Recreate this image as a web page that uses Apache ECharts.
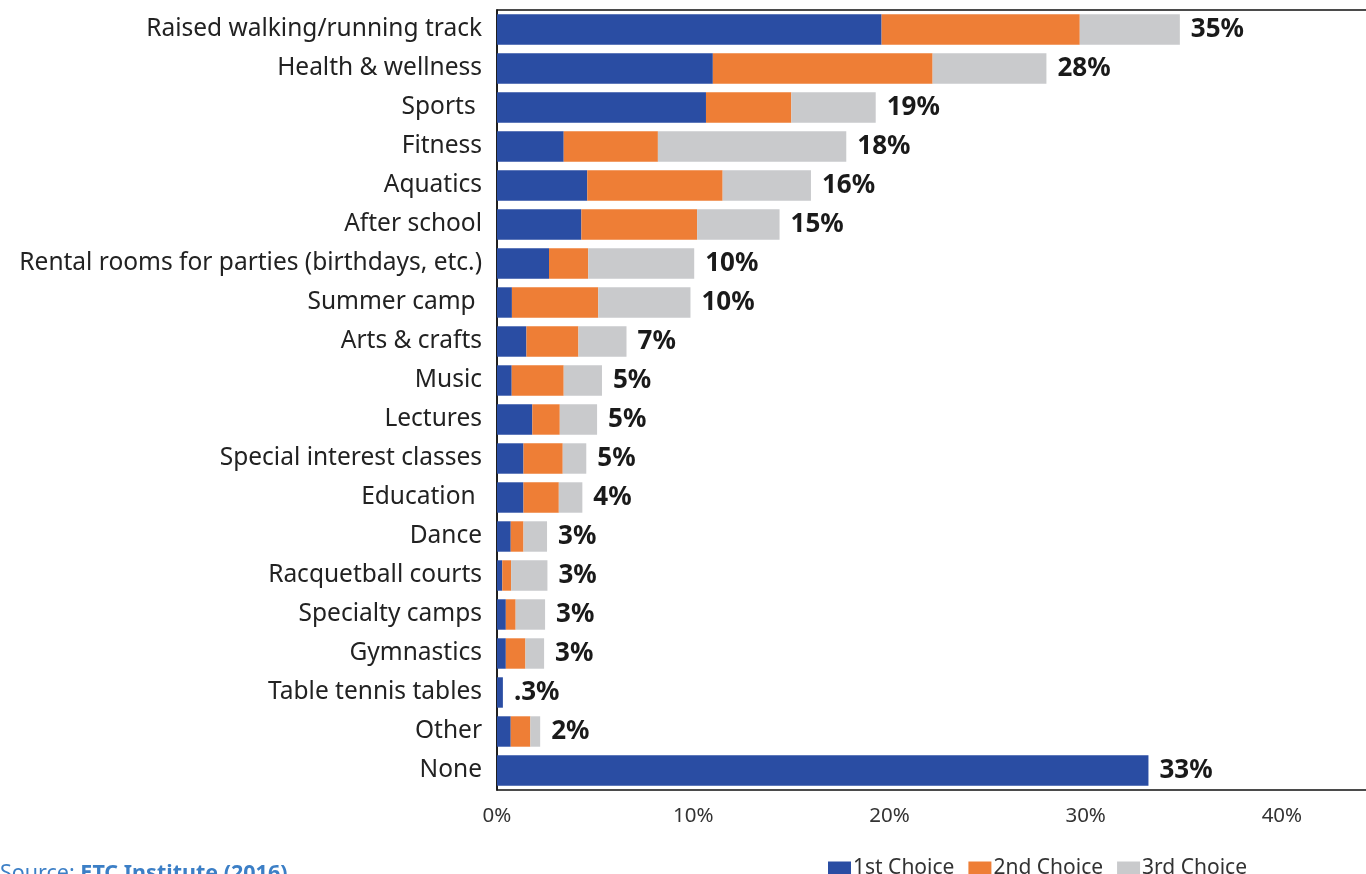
<!DOCTYPE html>
<html>
<head>
<meta charset="utf-8">
<script src="https://cdn.jsdelivr.net/npm/echarts@6/dist/echarts.min.js"></script>
<style>
html,body{margin:0;padding:0;background:#fff;}
#c{width:1366px;height:874px;}
</style>
</head>
<body>
<div id="c"></div>
<script>
var categories = ["Raised walking/running track","Health & wellness","Sports ","Fitness","Aquatics","After school","Rental rooms for parties (birthdays, etc.)","Summer camp ","Arts & crafts","Music","Lectures","Special interest classes","Education ","Dance","Racquetball courts","Specialty camps","Gymnastics","Table tennis tables","Other","None"];
var firstChoice  = [19.6, 11.0, 10.65, 3.4, 4.6, 4.3, 2.65, 0.76, 1.5, 0.75, 1.8, 1.35, 1.35, 0.7, 0.27, 0.45, 0.45, 0.3, 0.7, 33.2];
var secondChoice = [10.1, 11.2, 4.35, 4.8, 6.9, 5.9, 2.0, 4.4, 2.65, 2.65, 1.4, 2.0, 1.8, 0.65, 0.45, 0.5, 1.0, 0, 1.0, 0];
var thirdChoice  = [5.1, 5.8, 4.3, 9.6, 4.5, 4.2, 5.4, 4.7, 2.45, 1.95, 1.9, 1.2, 1.2, 1.2, 1.85, 1.5, 0.95, 0, 0.5, 0];
var totalLabels  = ["35%","28%","19%","18%","16%","15%","10%","10%","7%","5%","5%","5%","4%","3%","3%","3%","3%",".3%","2%","33%"];
var tickValues   = [0, 10, 20, 30, 40];

var chart = echarts.init(document.getElementById('c'));
var FONT = '"Noto Sans", sans-serif';
chart.setOption({
  animation: false,
  textStyle: {fontFamily: FONT},
  grid: {left: 497, top: 10, bottom: 84, right: -14, outerBoundsMode: 'none', containLabel: false,
    show: true, borderColor: '#111', borderWidth: 1.5, backgroundColor: 'transparent'},
  legend: {
    data: ['1st Choice','2nd Choice','3rd Choice'],
    left: 823, top: 853, itemWidth: 23, itemHeight: 14, itemGap: 14,
    icon: 'rect',
    textStyle: {fontSize: 21, color: '#333', fontFamily: FONT, padding: [0,0,0,-3]}
  },
  xAxis: {
    type: 'value', min: 0, max: 45, interval: 10,
    axisLine: {show: false}, axisTick: {show: false}, splitLine: {show: false},
    axisLabel: {
      fontSize: 20.5, color: '#333', margin: 16,
      formatter: function(v){ return tickValues.indexOf(v) >= 0 ? v + '%' : ''; }
    }
  },
  yAxis: {
    type: 'category', data: categories, inverse: true,
    axisLine: {show: true, lineStyle: {color: '#111', width: 1.5}},
    axisTick: {show: false},
    axisLabel: {fontSize: 24.5, color: '#222', margin: 15}
  },
  series: [
    {name: '1st Choice', type: 'bar', stack: 'a', data: firstChoice, barCategoryGap: '22%', itemStyle: {color: '#2A4DA3'}},
    {name: '2nd Choice', type: 'bar', stack: 'a', data: secondChoice, itemStyle: {color: '#EE7E36'}},
    {name: '3rd Choice', type: 'bar', stack: 'a', data: thirdChoice, itemStyle: {color: '#C9CACC'},
      label: {show: true, position: 'right', distance: 11, fontSize: 26, fontWeight: 'bold', color: '#1a1a1a',
        formatter: function(p){ return totalLabels[p.dataIndex]; }}}
  ],
  graphic: [
    {type: 'text', left: 0, top: 863, style: {
      text: '{n|Source: }{b|ETC Institute (2016)}',
      rich: {
        n: {fontSize: 21.5, fill: '#3C7FC6', fontFamily: FONT},
        b: {fontSize: 21.5, fill: '#3C7FC6', fontFamily: FONT, fontWeight: 'bold'}
      }
    }}
  ]
});
</script>
</body>
</html>
